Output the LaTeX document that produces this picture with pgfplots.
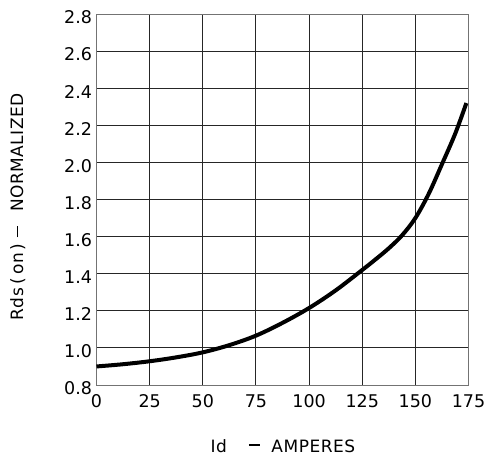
\documentclass[border=0pt]{standalone}
\usepackage{pgfplots}
\pgfplotsset{compat=1.18}
\usepackage{fontspec}
\setmainfont{DejaVu Sans}
\newfontfamily\lab[LetterSpace=3]{DejaVu Sans}
\begin{document}
\begin{tikzpicture}
\path[use as bounding box] (-96.5pt,-74pt) rectangle (388.5pt,385pt);
\begin{axis}[
  at={(0pt,0pt)}, anchor=south west,
  scale only axis, width=372pt, height=371pt,
  xmin=0, xmax=175, ymin=0.8, ymax=2.8,
  xtick={0,25,50,75,100,125,150,175},
  ytick={0.8,1.0,1.2,1.4,1.6,1.8,2.0,2.2,2.4,2.6,2.8},
  yticklabel style={/pgf/number format/fixed, /pgf/number format/fixed zerofill, /pgf/number format/precision=1, yshift=-3.5pt, xshift=-1pt},
  /pgf/number format/assume math mode=true,
  tick label style={font=\fontsize{17.5}{20}\selectfont},
  xticklabel style={yshift=-6pt},
  major tick length=0pt,
  grid=major,
  major grid style={black!85, line width=0.9pt},
  axis line style={black!55, line width=1pt},
  xlabel={\lab\fontsize{17}{20}\selectfont Id\hspace{22pt}\rule[7pt]{11.6pt}{1.4pt}\hspace{11pt}AMPERES},
  ylabel={\lab\fontsize{17}{20}\selectfont R\kern1pt d\kern1pt s\kern3pt(\kern3pt on\kern3pt)\hspace{6pt}\rule[5.3pt]{11.6pt}{1.4pt}\hspace{14pt}NORMALIZED},
  xlabel style={at={(axis description cs:0.501,-0.1825)}, anchor=base},
  ylabel style={at={(axis description cs:-0.197,0.48)}, anchor=base},
]
\addplot[black, line width=4pt, smooth, tension=0.55] coordinates {
  (0,0.90) (12.5,0.912) (25,0.928) (37.5,0.949) (50,0.976) (62.5,1.015)
  (75,1.066) (87.5,1.135) (100,1.215) (112.5,1.31) (125,1.42) (131.25,1.477)
  (137.5,1.537) (143.75,1.607) (150,1.70) (156.25,1.83) (162.5,1.99)
  (168.75,2.155) (174,2.32)
};
\end{axis}
\end{tikzpicture}
\end{document}
